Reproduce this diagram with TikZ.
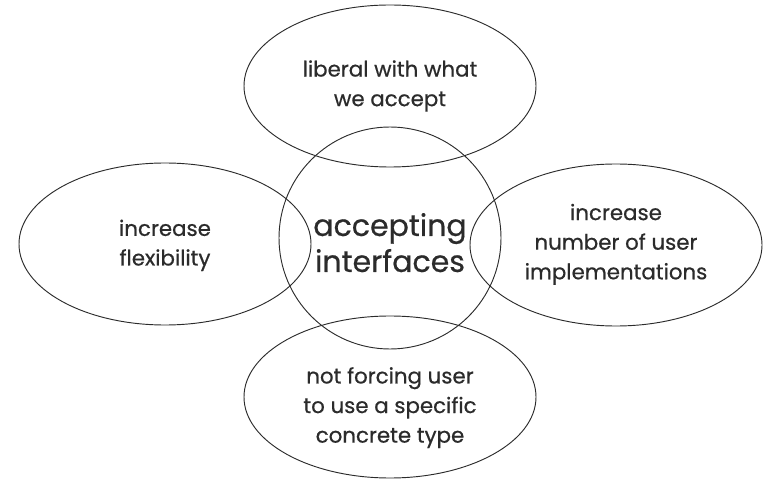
\documentclass[tikz,border=0pt]{standalone}
\usepackage{fontspec}
\setmainfont{Poppins}
\usetikzlibrary{shapes.geometric}
\definecolor{ink}{HTML}{2B2B2B}
\begin{document}
\begin{tikzpicture}[x=0.75pt,y=-0.75pt,
  bubble/.style={ellipse,draw=ink,line width=0.7pt,minimum width=219pt,minimum height=121.5pt,inner sep=0pt},
  hub/.style={circle,draw=ink,line width=0.7pt,minimum size=166.5pt,inner sep=0pt},
  label/.style={align=center,text=ink,inner sep=0pt,font=\fontsize{16}{22.2}\selectfont\addfontfeature{FakeBold=0.6}},
  biglabel/.style={align=center,text=ink,inner sep=0pt,font=\fontsize{22.5}{27}\selectfont\addfontfeature{FakeBold=0.6}}]
\useasboundingbox (0,0) rectangle (770,484);
\node[hub] (hub) at (390,238) {};
\node[bubble] (top) at (390,86) {};
\node[bubble] (left) at (165,244) {};
\node[bubble] (right) at (616,245) {};
\node[bubble] (bottom) at (390,397) {};
\node[biglabel] (hubT) at ([yshift=-3.5pt]hub.center) {accepting\\interfaces};
\node[label] (topT) at (top.center) {liberal with what\\we accept};
\node[label] (leftT) at ([yshift=-1pt]left.center) {increase\\flexibility};
\node[label] (rightT) at ([yshift=0.5pt]right.center) {increase\\number of user\\implementations};
\node[label] (bottomT) at ([yshift=-8pt]bottom.center) {not forcing user\\to use a specific\\concrete type};
\end{tikzpicture}
\end{document}
